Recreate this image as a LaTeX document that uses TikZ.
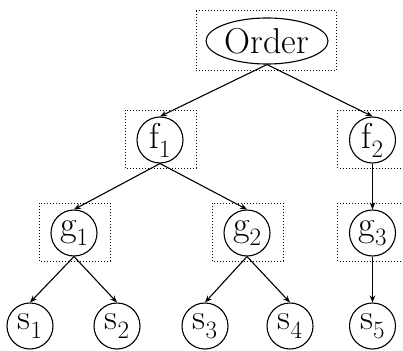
\documentclass[tikz,border=0pt]{standalone}
\usetikzlibrary{arrows.meta,calc,shapes.geometric}
\newcommand\lbl[2]{#1\raisebox{-0.25em}{\fontsize{25}{28}\selectfont #2}}
\begin{document}
\begin{tikzpicture}[x=1pt,y=-1pt,
  every node/.style={font=\fontsize{36}{42}\selectfont},
  cnode/.style={draw,circle,line width=1.1pt,minimum size=46pt,inner sep=0pt},
  enode/.style={draw,ellipse,line width=1.1pt,minimum width=122pt,minimum height=46pt,inner sep=0pt},
  edge/.style={line width=1.1pt,-{Stealth[length=7pt,width=5.5pt]}},
  dotbox/.style={dotted,line width=1pt}]
\clip (0,0) rectangle (403,350);
\useasboundingbox (0,0) rectangle (403,350);
\node[enode] (o) at (267,41) {Order};
\node[cnode] (f1) at (160,140) {\lbl{f}{1}};
\node[cnode] (f2) at (372.5,140) {\lbl{f}{2}};
\node[cnode] (g1) at (74,233) {\lbl{g}{1}};
\node[cnode] (g2) at (247,233) {\lbl{g}{2}};
\node[cnode] (g3) at (372.5,233) {\lbl{g}{3}};
\node[cnode] (s1) at (30,326) {\lbl{s}{1}};
\node[cnode] (s2) at (117,326) {\lbl{s}{2}};
\node[cnode] (s3) at (205,326) {\lbl{s}{3}};
\node[cnode] (s4) at (290,326) {\lbl{s}{4}};
\node[cnode] (s5) at (372.5,326) {\lbl{s}{5}};
\draw[dotbox] ($(o)+(-71,-30)$) rectangle ($(o)+(69,30)$);
\foreach \n in {f1,f2,g1,g2,g3}
  \draw[dotbox] ($(\n)+(-35,-30)$) rectangle ($(\n)+(36,28)$);
\draw[edge] (o.south) -- (f1.north);
\draw[edge] (o.south) -- (f2.north);
\draw[edge] (f1.south) -- (g1.north);
\draw[edge] (f1.south) -- (g2.north);
\draw[edge] (f2.south) -- (g3.north);
\draw[edge] (g1.south) -- (s1.north);
\draw[edge] (g1.south) -- (s2.north);
\draw[edge] (g2.south) -- (s3.north);
\draw[edge] (g2.south) -- (s4.north);
\draw[edge] (g3.south) -- (s5.north);
\end{tikzpicture}
\end{document}
